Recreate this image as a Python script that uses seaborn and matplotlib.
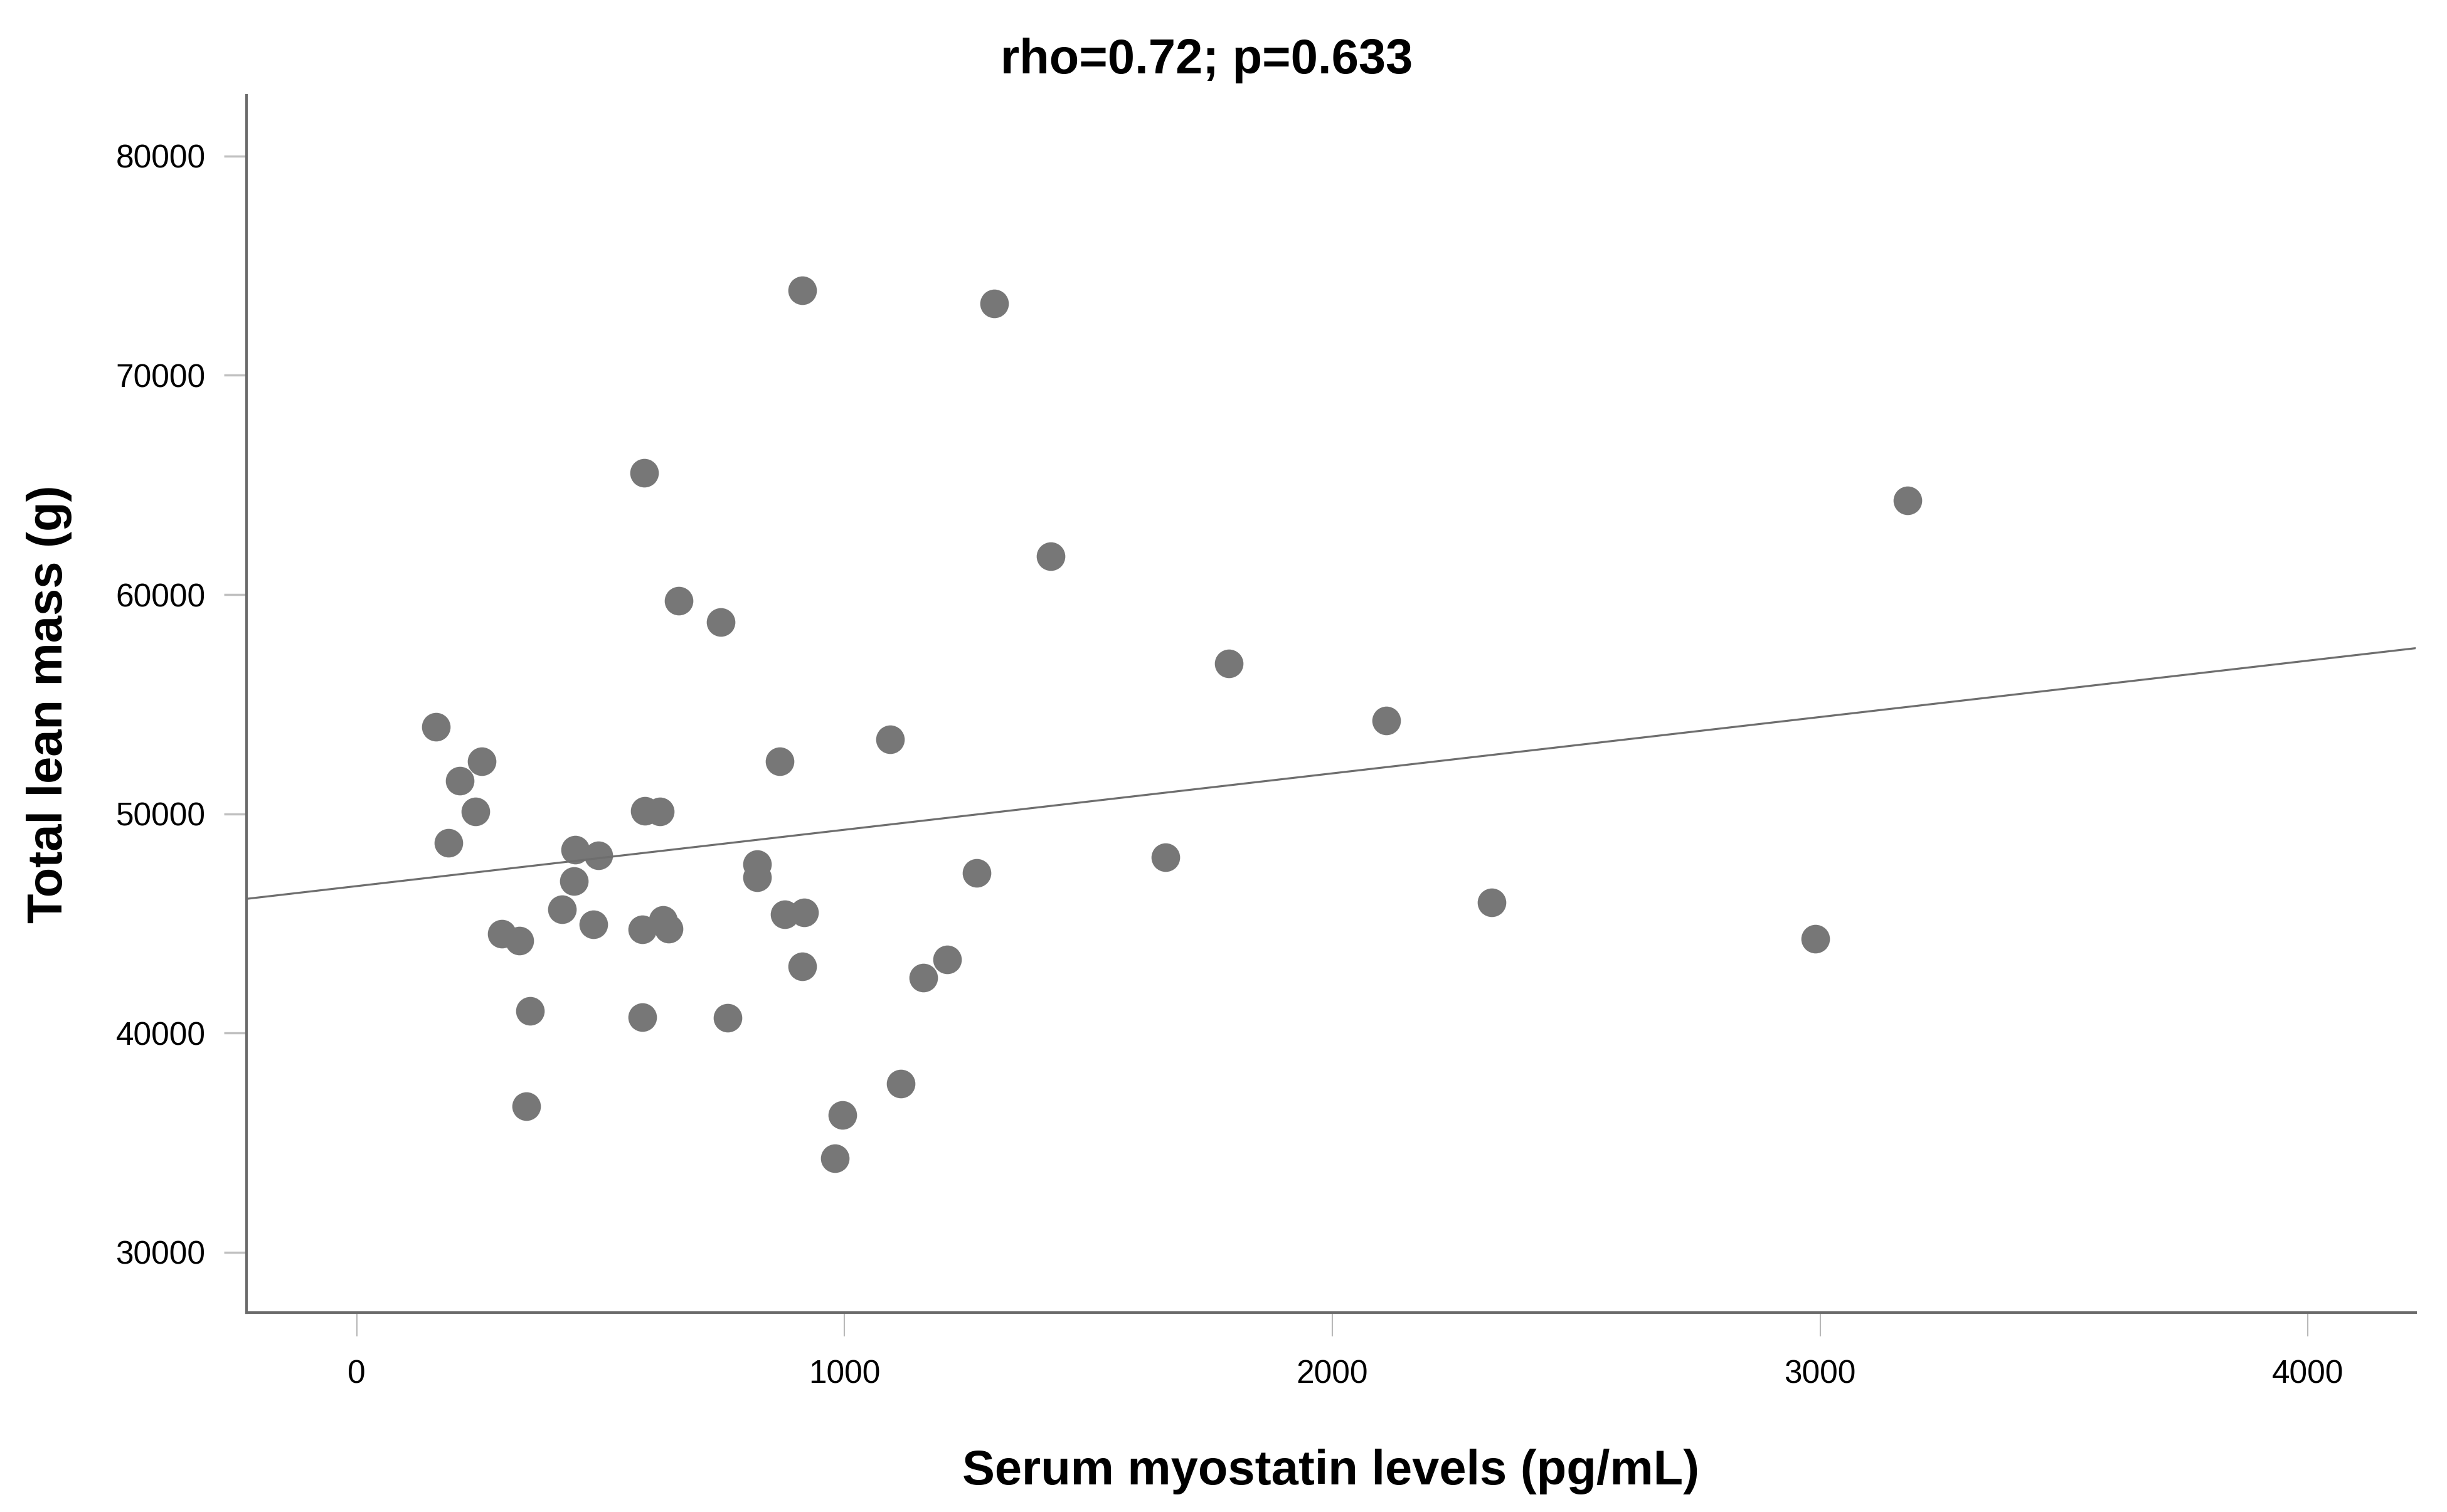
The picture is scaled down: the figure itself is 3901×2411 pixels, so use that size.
import matplotlib
matplotlib.use("Agg")
import matplotlib.pyplot as plt
import seaborn as sns
import pandas as pd

# values
myostatin = [163, 256, 212, 243, 188, 591, 622, 867, 448, 496,
             446, 821, 821, 421, 485, 297, 333, 585, 628, 639,
             878, 918, 913, 356, 585, 760, 348, 1093, 1271, 1658,
             1210, 1162, 1115, 996, 980, 1307, 1423, 1788, 2111, 2327,
             914, 590, 660, 747, 2990, 3179]
lean_mass = [53960, 52390, 51500, 50100, 48670, 50130, 50100, 52390, 48370, 48090,
             46940, 47700, 47100, 45640, 44960, 44520, 44200, 44740, 45150, 44770,
             45400, 45510, 43050, 41000, 40710, 40680, 36650, 53400, 47310, 48010,
             43350, 42520, 37680, 36250, 34300, 73280, 61760, 56860, 54260, 45970,
             73880, 65560, 59730, 58730, 44290, 64290]

x_ticks = [0, 1000, 2000, 3000, 4000]
y_ticks = [30000, 40000, 50000, 60000, 70000, 80000]

TITLE = "rho=0.72; p=0.633"
X_LABEL = "Serum myostatin levels (pg/mL)"
Y_LABEL = "Total lean mass (g)"

df = pd.DataFrame({"myostatin": myostatin, "lean": lean_mass})

sns.set_style("white")
plt.rcParams['font.family'] = ['Liberation Sans', 'DejaVu Sans']

fig = plt.figure(figsize=(39.01, 24.11), dpi=100)
ax = fig.add_axes([0.1007, 0.1319, 0.8865, 0.8051])

# limits first so the fitted line spans the whole axis (truncate=False)
ax.set_xlim(-226, 4221)
ax.set_ylim(27250, 82775)

sns.regplot(data=df, x="myostatin", y="lean", ax=ax, ci=None, truncate=False,
            scatter_kws=dict(s=1080, color="#777777", linewidths=0, alpha=1),
            line_kws=dict(color="#6e6e6e", lw=2.3))

ax.set_xticks(x_ticks)
ax.set_yticks(y_ticks)
ax.set_xticklabels([str(v) for v in x_ticks])
ax.set_yticklabels([str(v) for v in y_ticks])

ax.tick_params(axis="x", direction="out", length=27, width=1.5, color="#b8b8b8",
               pad=27, labelsize=37, labelcolor="black", bottom=True)
ax.tick_params(axis="y", direction="out", length=26, width=2.5, color="#c0c0c0",
               pad=21, labelsize=37, labelcolor="black", left=True)

for side in ["top", "right"]:
    ax.spines[side].set_visible(False)
for side in ["left", "bottom"]:
    ax.spines[side].set_color("#6a6a6a")
    ax.spines[side].set_linewidth(3)

# title sits a little left of the axes centre, as in the source figure
ax.set_title(TITLE, fontsize=56, fontweight="bold", pad=25, color="black", x=0.4425)
ax.set_xlabel(X_LABEL, fontsize=56, fontweight="bold", labelpad=67, color="black")
ax.set_ylabel(Y_LABEL, fontsize=56, fontweight="bold", labelpad=50, color="black")

fig.savefig("out.png", dpi=100, facecolor="white")
